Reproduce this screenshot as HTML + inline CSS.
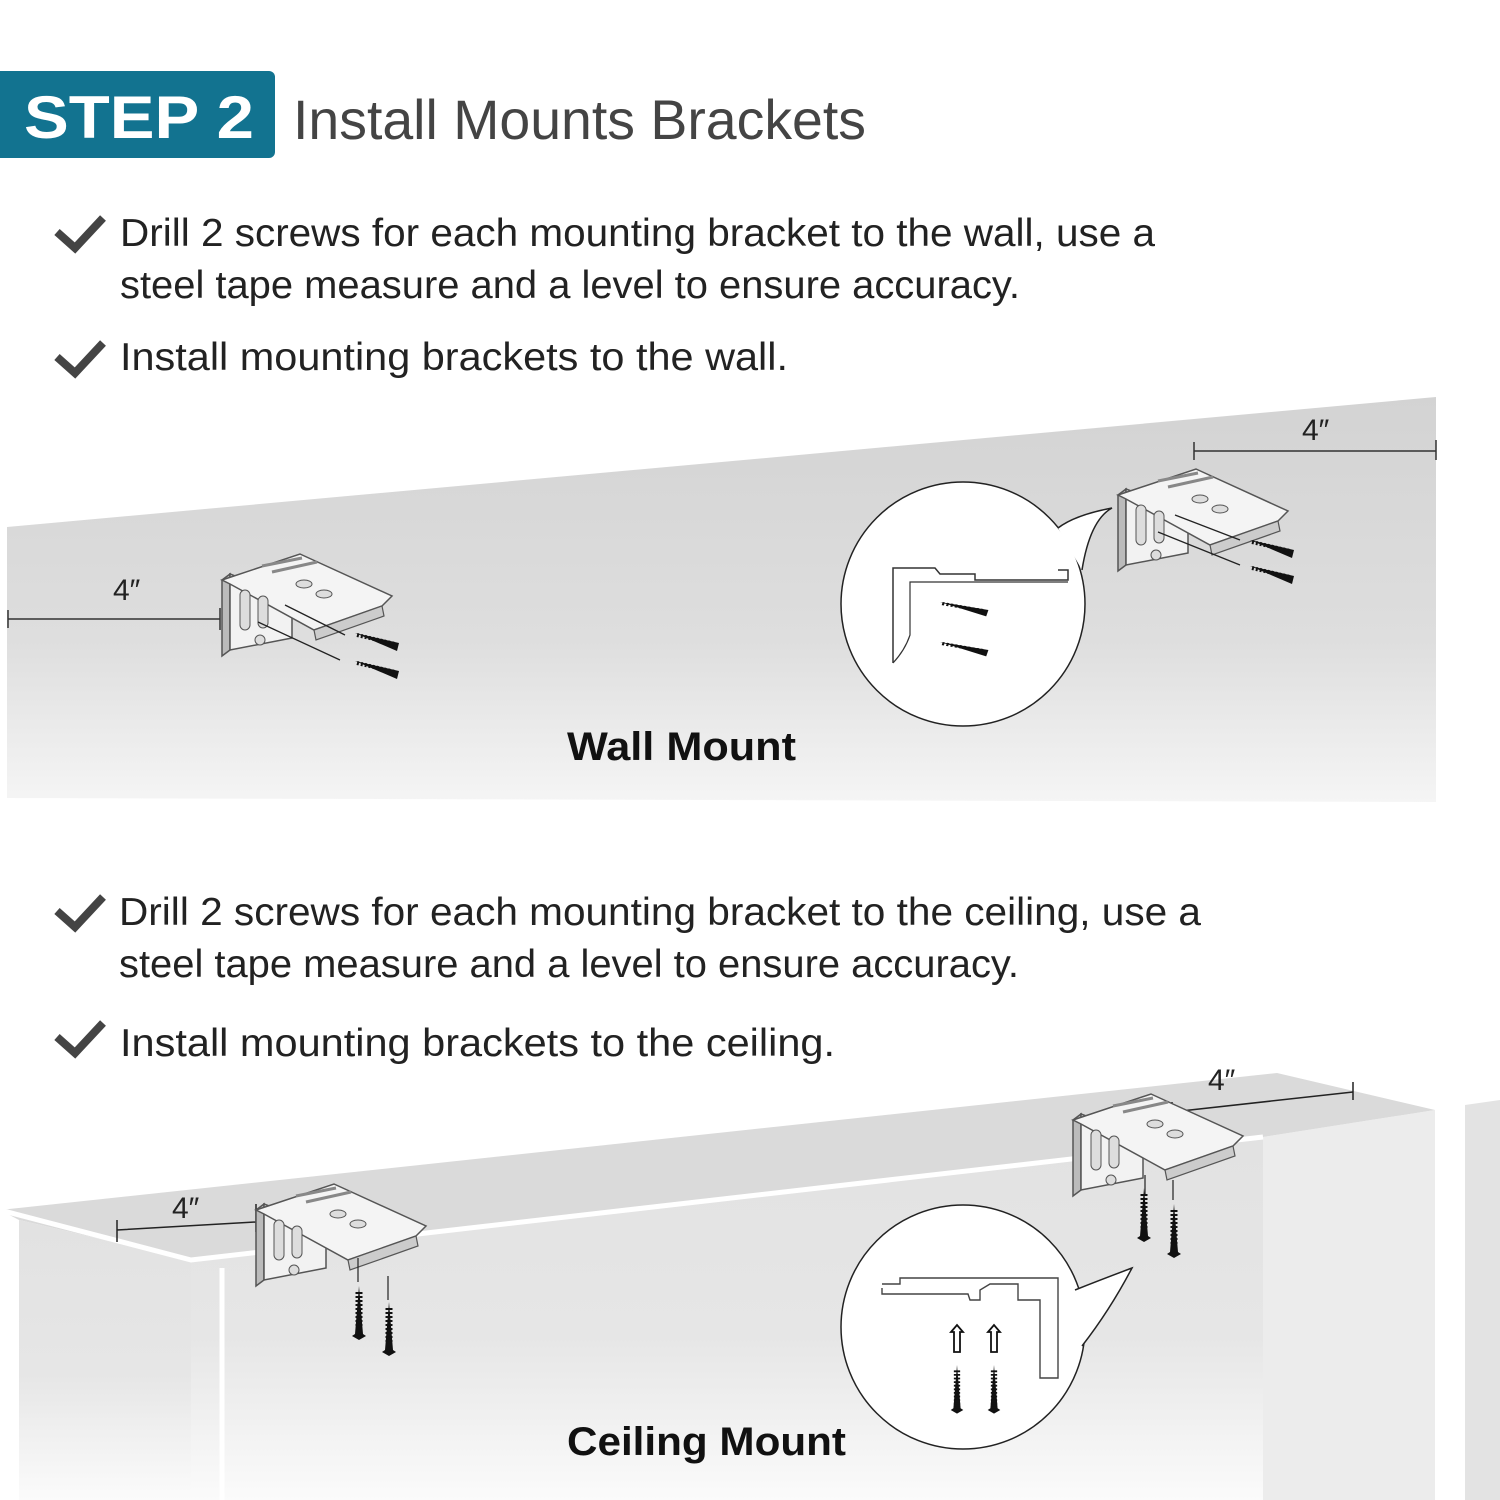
<!DOCTYPE html>
<html><head><meta charset="utf-8"><style>
html,body{margin:0;padding:0;background:#fff}
svg{display:block}
text{font-family:"Liberation Sans",sans-serif}
</style></head><body>
<svg width="1500" height="1500" viewBox="0 0 1500 1500" xmlns="http://www.w3.org/2000/svg">
<defs>
<linearGradient id="wg" x1="0" y1="0" x2="0" y2="1">
<stop offset="0" stop-color="#d3d3d3"/><stop offset="0.6" stop-color="#dedede"/><stop offset="1" stop-color="#f5f5f5"/></linearGradient>
<linearGradient id="fg" x1="0" y1="0" x2="0" y2="1">
<stop offset="0" stop-color="#e2e2e2"/><stop offset="0.55" stop-color="#e6e6e6"/><stop offset="1" stop-color="#fbfbfb"/></linearGradient>
<g id="br">
<path d="M0,20 L8,14 L8,90 L0,96 Z" fill="#bbb" stroke="#555" stroke-width="1.5"/>
<path d="M8,14 L70,38 L70,78 L8,90 Z" fill="#f2f2f2" stroke="#555" stroke-width="1.5"/>
<path d="M0,20 L78,-6 L170,36 L160,46 L92,70 L8,24 Z" fill="#f4f4f4" stroke="#555" stroke-width="1.5"/>
<path d="M92,70 L160,46 L162,56 L94,80 Z" fill="#ccc" stroke="#555" stroke-width="1.2"/>
<rect x="18" y="30" width="10" height="40" rx="5" fill="#ddd" stroke="#555"/>
<rect x="36" y="36" width="10" height="32" rx="5" fill="#ddd" stroke="#555"/>
<circle cx="38" cy="80" r="5" fill="#ddd" stroke="#555"/>
<ellipse cx="82" cy="24" rx="8" ry="4" fill="#ddd" stroke="#555"/>
<ellipse cx="102" cy="34" rx="8" ry="4" fill="#ddd" stroke="#555"/>
<path d="M40,6 L80,-2 M50,12 L95,2" stroke="#888" stroke-width="3"/>
</g>
<g id="hs"><path d="M0,0 L44,10 L42,18 Z" fill="#111"/><path d="M2,2 L40,11" stroke="#111" stroke-width="4" stroke-dasharray="2 2"/></g>
<g id="vs"><path d="M0,0 L4,48 L7,50 L0,54 L-7,50 L-4,48 Z" fill="#111"/><path d="M0,6 L0,48" stroke="#111" stroke-width="7" stroke-dasharray="2 2"/></g>
</defs>

<!-- header -->
<path d="M0,71 H269 a6,6 0 0 1 6,6 V152 a6,6 0 0 1 -6,6 H0 Z" fill="#127390"/>
<text x="24" y="138" font-size="60" font-weight="bold" fill="#fff" textLength="230" lengthAdjust="spacingAndGlyphs">STEP 2</text>
<text x="293" y="139" font-size="56" fill="#444" textLength="573" lengthAdjust="spacingAndGlyphs">Install Mounts Brackets</text>

<g fill="none" stroke="#444" stroke-width="8">
<path d="M57,232 L75,248 L103,218"/><path d="M57,357 L75,373 L103,343"/>
<path d="M57,911 L75,927 L103,897"/><path d="M57,1037 L75,1053 L103,1023"/>
</g>
<g font-size="39" fill="#222">
<text x="120" y="246" textLength="1035" lengthAdjust="spacingAndGlyphs">Drill 2 screws for each mounting bracket to the wall, use a</text>
<text x="120" y="298" textLength="900" lengthAdjust="spacingAndGlyphs">steel tape measure and a level to ensure accuracy.</text>
<text x="120" y="370" textLength="668" lengthAdjust="spacingAndGlyphs">Install mounting brackets to the wall.</text>
<text x="119" y="925" textLength="1082" lengthAdjust="spacingAndGlyphs">Drill 2 screws for each mounting bracket to the ceiling, use a</text>
<text x="119" y="977" textLength="900" lengthAdjust="spacingAndGlyphs">steel tape measure and a level to ensure accuracy.</text>
<text x="120" y="1056" textLength="715" lengthAdjust="spacingAndGlyphs">Install mounting brackets to the ceiling.</text>
</g>

<!-- wall -->
<path d="M7,527 L1436,397 L1436,802 L7,798 Z" fill="url(#wg)"/>
<path d="M8,619 H220 M8,610 V628 M220,608 V630" stroke="#333" stroke-width="1.5"/>
<text x="113" y="600" font-size="30" fill="#222">4″</text>
<use href="#br" transform="translate(222,560)"/>
<path d="M285,605 L345,635 M258,622 L340,660" stroke="#222" stroke-width="1.3"/>
<use href="#hs" transform="translate(355,633)"/><use href="#hs" transform="translate(355,661)"/>
<path d="M1194,451 H1436 M1194,442 V460 M1436,440 V460" stroke="#333" stroke-width="1.5"/>
<text x="1302" y="440" font-size="30" fill="#222">4″</text>
<use href="#br" transform="translate(1118,475)"/>
<path d="M1175,515 L1240,540 M1158,532 L1240,565" stroke="#222" stroke-width="1.3"/>
<use href="#hs" transform="translate(1250,540)"/><use href="#hs" transform="translate(1250,566)"/>
<circle cx="963" cy="604" r="122" fill="#fff" stroke="#222" stroke-width="1.5"/>
<path d="M1058,528 Q1075,515 1112,508 Q1090,520 1082,570 Z" fill="#fff"/>
<path d="M1058,528 Q1075,515 1112,508 Q1090,520 1082,570" fill="none" stroke="#222" stroke-width="1.5"/>
<path d="M893,663 V568 H935 L940,574 H975 V580 H1068 V570 H1058" fill="none" stroke="#333" stroke-width="1.5"/>
<path d="M893,663 Q905,650 910,635 V582 H1068" fill="none" stroke="#333" stroke-width="1.2"/>
<use href="#hs" transform="translate(940,602) scale(1.1,0.8)"/><use href="#hs" transform="translate(940,642) scale(1.1,0.8)"/>
<text x="567" y="760" font-size="40" font-weight="bold" fill="#111" textLength="229" lengthAdjust="spacingAndGlyphs">Wall Mount</text>

<!-- ceiling -->
<path d="M0,1210 L1277,1073 L1435,1110 L1263,1137 L191,1260 L19,1220 Z" fill="#dadada"/>
<path d="M19,1220 L191,1260 L191,1500 L19,1500 Z" fill="url(#fg)"/>
<path d="M191,1260 L1263,1137 L1263,1500 L191,1500 Z" fill="url(#fg)"/>
<path d="M1263,1137 L1435,1110 L1435,1500 L1263,1500 Z" fill="#e4e4e4" opacity="0.7"/>
<path d="M1465,1105 L1500,1100 V1500 H1465 Z" fill="#e3e3e3"/>
<path d="M0,1210 L191,1260 L1263,1137 M222,1268 V1500" stroke="#fff" stroke-width="5" fill="none"/>
<path d="M117,1230 L256,1222 M117,1220 V1242 M256,1204 V1232" stroke="#222" stroke-width="1.5"/>
<text x="172" y="1218" font-size="30" fill="#222">4″</text>
<use href="#br" transform="translate(256,1190)"/>
<path d="M358,1258 V1282 M388,1276 V1300" stroke="#222" stroke-width="1.2"/>
<use href="#vs" transform="translate(359,1286)"/><use href="#vs" transform="translate(389,1302)"/>
<path d="M1172,1112 L1353,1092 M1353,1082 V1100 M1172,1102 V1122" stroke="#222" stroke-width="1.5"/>
<text x="1208" y="1090" font-size="30" fill="#222">4″</text>
<use href="#br" transform="translate(1073,1100)"/>
<path d="M1145,1175 V1195 M1173,1180 V1200" stroke="#222" stroke-width="1.2"/>
<use href="#vs" transform="translate(1144,1188)"/><use href="#vs" transform="translate(1174,1204)"/>
<circle cx="963" cy="1327" r="122" fill="#fff" stroke="#222" stroke-width="1.5"/>
<path d="M1075,1290 Q1100,1280 1132,1268 Q1110,1310 1082,1346 Z" fill="#fff"/>
<path d="M1075,1290 Q1100,1280 1132,1268 Q1110,1310 1082,1346" fill="none" stroke="#222" stroke-width="1.5"/>
<path d="M882,1288 V1294 H968 L970,1300 H980 V1290 L990,1284 H1018 V1300 H1040 V1378 H1058 V1278 H900 V1284 H882" fill="none" stroke="#444" stroke-width="1.4"/>
<path d="M951,1332 L957,1325 L963,1332 H960 V1352 H954 V1332 Z M988,1332 L994,1325 L1000,1332 H997 V1352 H991 V1332 Z" fill="#fff" stroke="#111" stroke-width="1.8"/>
<use href="#vs" transform="translate(957,1365) scale(0.9,0.9)"/><use href="#vs" transform="translate(994,1365) scale(0.9,0.9)"/>
<text x="567" y="1455" font-size="40" font-weight="bold" fill="#111" textLength="279" lengthAdjust="spacingAndGlyphs">Ceiling Mount</text>
</svg>
</body></html>
